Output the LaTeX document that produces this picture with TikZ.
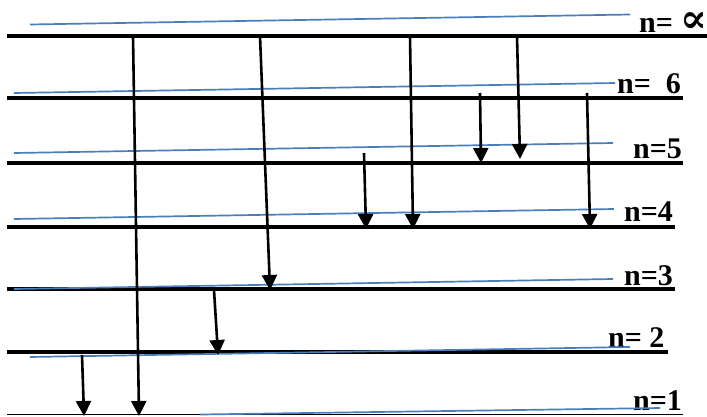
\documentclass[tikz,border=0pt]{standalone}
\usepackage{fontspec}
\setmainfont{Liberation Serif}
\newfontfamily\propfont{DejaVu Serif}
\usetikzlibrary{arrows.meta}
\definecolor{lvlblue}{RGB}{74,126,187}
\tikzset{
  level/.style={line width=3.8pt},
  bluelvl/.style={lvlblue, line width=1.7pt},
  trans/.style={line width=2.6pt, -{Triangle[length=15pt,width=15pt]}, shorten >=-1pt},
  lab/.style={anchor=base west, inner sep=0pt, font=\fontsize{30}{32}\selectfont\bfseries}
}
\begin{document}
\begin{tikzpicture}[x=1pt,y=-1pt]
\useasboundingbox (0,0) rectangle (707,416);
% level line ends
\coordinate (Linf0) at (7,36);   \coordinate (Linf1) at (710,36);
\coordinate (L60) at (7,98);     \coordinate (L61) at (683,98);
\coordinate (L50) at (7,163);    \coordinate (L51) at (683,163);
\coordinate (L40) at (7,227);    \coordinate (L41) at (675,227);
\coordinate (L30) at (7,289);    \coordinate (L31) at (675,289);
\coordinate (L20) at (7,352);    \coordinate (L21) at (668,352);
\coordinate (L10) at (7,414.5);  \coordinate (L11) at (683,414.5);
\draw[level] (Linf0) -- (Linf1);
\draw[level] (L60) -- (L61);
\draw[level] (L50) -- (L51);
\draw[level] (L40) -- (L41);
\draw[level] (L30) -- (L31);
\draw[level] (L20) -- (L21);
\draw[line width=1.6pt] (L10) -- (L11);
% labels
\node[lab] (tinf) at (639,32) {n= {\propfont\fontsize{40}{40}\selectfont ∝}};
\node[lab] (t6) at (617,93) {n=\ \ 6};
\node[lab] (t5) at (633,158) {n=5};
\node[lab] (t4) at (624,221) {n=4};
\node[lab] (t3) at (624,285) {n=3};
\node[lab] (t2) at (608,347) {n= 2};
\node[lab] (t1) at (633,410) {n=1};
% blue lines
\coordinate (Binf0) at (30,24.5); \coordinate (Binf1) at (630,14.5);
\coordinate (B60) at (14,93);     \coordinate (B61) at (615,83);
\coordinate (B50) at (14,153);    \coordinate (B51) at (613,143);
\coordinate (B40) at (14,219);    \coordinate (B41) at (614,209);
\coordinate (B30) at (14,289);    \coordinate (B31) at (613,279);
\coordinate (B20) at (30,357);    \coordinate (B21) at (630,347);
\coordinate (B10) at (200,414.5); \coordinate (B11) at (660,408);
\foreach \a/\b in {Binf0/Binf1,B60/B61,B50/B51,B40/B41,B30/B31,B20/B21,B10/B11}
  \draw[bluelvl] (\a) -- (\b);
% transitions
\coordinate (a0) at (133,36);  \coordinate (a1) at (139,415);
\coordinate (b0) at (260,36);  \coordinate (b1) at (270,289);
\coordinate (c0) at (214,290); \coordinate (c1) at (218,354);
\coordinate (d0) at (82,355);  \coordinate (d1) at (84,415);
\coordinate (e0) at (410,36);  \coordinate (e1) at (413,228);
\coordinate (f0) at (517,36);  \coordinate (f1) at (520,158);
\coordinate (g0) at (480,93);  \coordinate (g1) at (481,162);
\coordinate (h0) at (587,93);  \coordinate (h1) at (590,228);
\coordinate (i0) at (364,153); \coordinate (i1) at (366,228);
\foreach \p in {a,b,c,d,e,f,g,h,i}
  \draw[trans] (\p0) -- (\p1);
\end{tikzpicture}
\end{document}
